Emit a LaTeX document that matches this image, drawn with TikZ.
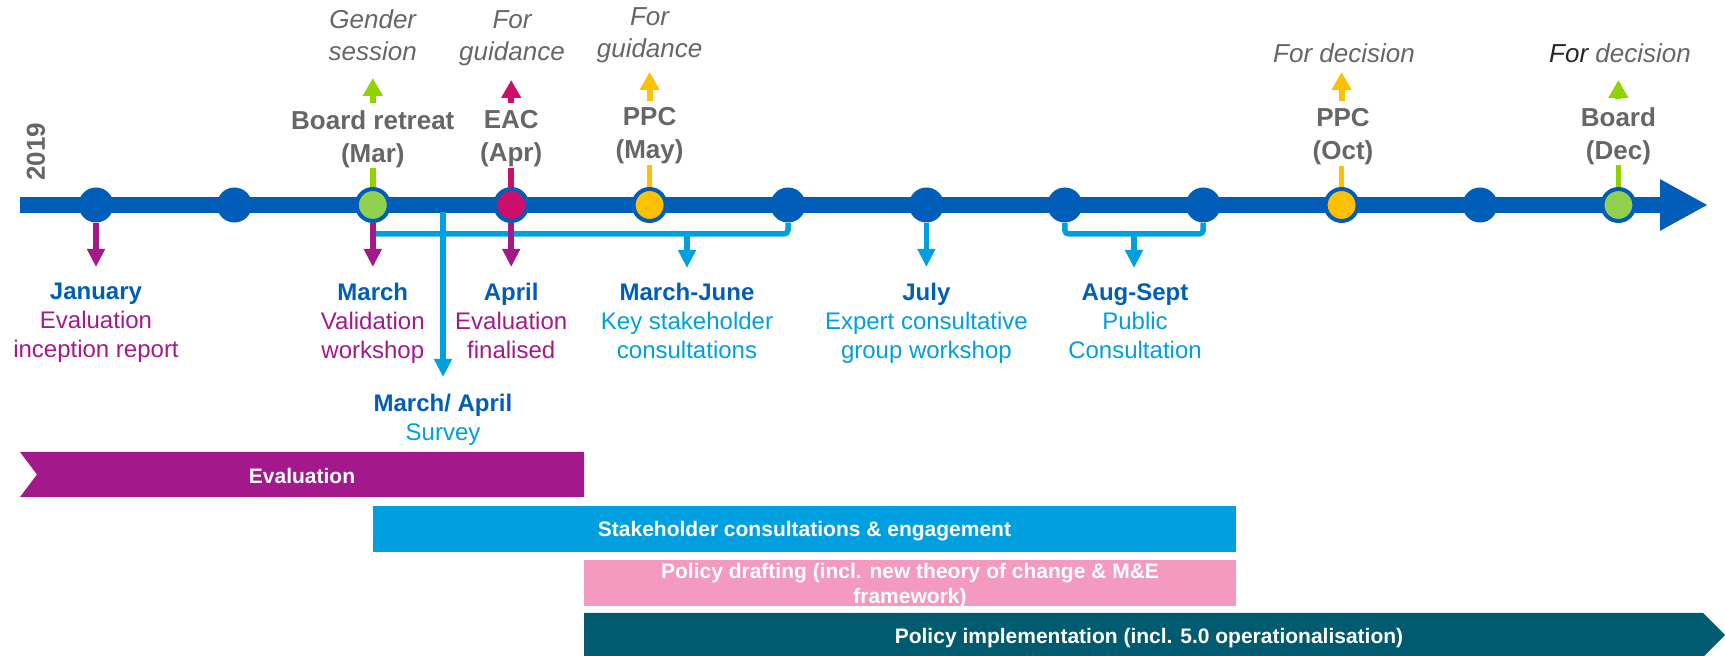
\documentclass[tikz,border=0pt]{standalone}
\usepackage{fontspec}
\setmainfont{Liberation Sans}
\usetikzlibrary{arrows.meta}
\definecolor{tblue}{HTML}{005EB8}
\definecolor{lblue}{HTML}{009FDF}
\definecolor{purp}{HTML}{A3198B}
\definecolor{mag}{HTML}{CC0F6A}
\definecolor{yel}{HTML}{FFC000}
\definecolor{gfill}{HTML}{92D050}
\definecolor{gline}{HTML}{8FD400}
\definecolor{gtext}{HTML}{666666}
\definecolor{lpink}{HTML}{F49AC1}
\definecolor{dteal}{HTML}{005A70}
\newcommand\mhead[1]{{\bfseries\color{tblue}#1}}
\tikzset{
  tdot/.style={circle, fill=tblue, inner sep=0pt, minimum size=17.5pt},
  cdot/.style={circle, draw=tblue, line width=2pt, fill=#1, inner sep=0pt, minimum size=16pt},
  toplab/.style={text=gtext, font=\fontsize{13}{16.5}\selectfont\bfseries, align=center, inner sep=0pt},
  itlab/.style={text=gtext, font=\fontsize{13}{16}\selectfont\itshape, align=center, inner sep=0pt},
  botlab/.style={text=#1, font=\fontsize{12}{14.5}\selectfont, align=center, inner sep=0pt},
  stemline/.style={draw=#1, line width=2.8pt},
  uparr/.style={draw=#1, line width=3pt, -{Triangle[width=9.5pt,length=9pt]}},
  downarr/.style={draw=#1, line width=2.75pt, -{Triangle[width=8.5pt,length=9pt]}},
  brk/.style={draw=lblue, line width=2.75pt, rounded corners=2pt},
  barlab/.style={text=white, font=\fontsize{10.5}{12.5}\selectfont\bfseries, align=center, inner sep=0pt}
}
\begin{document}
\begin{tikzpicture}[x=0.5pt,y=-0.5pt]
\useasboundingbox (0,0) rectangle (1725,656);
% timeline
\coordinate (tls) at (20,205);
\coordinate (tle) at (1708,205);
\draw[tblue, line width=8pt, -{Triangle[width=24pt,length=24pt]}] (tls) -- (tle);
\node[text=gtext, font=\fontsize{13}{13}\selectfont\bfseries, rotate=90, inner sep=0pt] (year) at (36,152) {2019};
% circles
\foreach \i/\x in {1/96,2/234.4,6/788,7/926.4,8/1064.8,9/1203.2,11/1480}
  \node[tdot] (c\i) at (\x,205) {};
\node[cdot=gfill] (c3) at (372.8,205) {};
\node[cdot=mag] (c4) at (511.2,205) {};
\node[cdot=yel] (c5) at (649.6,205) {};
\node[cdot=yel] (c10) at (1341.6,205) {};
\node[cdot=gfill] (c12) at (1618.4,205) {};
% top labels
\node[toplab] (l3) at (372.8,139) {Board retreat\\(Mar)};
\node[toplab] (l4) at (511.2,139) {EAC\\(Apr)};
\node[toplab] (l5) at (649.6,136) {PPC\\(May)};
\node[toplab] (l10) at (1343,137) {PPC\\(Oct)};
\node[toplab] (l12) at (1618.4,136) {Board\\(Dec)};
\node[itlab] (i3) at (372.8,35) {Gender\\session};
\node[itlab] (i4) at (512,38) {For\\guidance};
\node[itlab] (i5) at (649.6,35) {For\\guidance};
\node[itlab] (i10) at (1344,53) {For decision};
\node[itlab] (i12) at (1620,53) {{\color{black!85}For} decision};
% stems
\draw[stemline=gline] (c3) -- (l3);
\draw[stemline=mag] (c4) -- (l4);
\draw[stemline=yel] (c5) -- (l5);
\draw[stemline=yel] (c10) -- (c10 |- l10.south);
\draw[stemline=gline] (c12) -- (l12);
% up arrows
\coordinate (u3a) at (372.8,103); \coordinate (u3b) at (372.8,78);
\coordinate (u4a) at (511.2,103); \coordinate (u4b) at (511.2,80);
\coordinate (u5a) at (649.6,101); \coordinate (u5b) at (649.6,72);
\coordinate (u10a) at (1341.6,101); \coordinate (u10b) at (1341.6,72);
\coordinate (u12a) at (1618.4,99); \coordinate (u12b) at (1618.4,80);
\draw[uparr=gline] (u3a) -- (u3b);
\draw[uparr=mag] (u4a) -- (u4b);
\draw[uparr=yel] (u5a) -- (u5b);
\draw[uparr=yel] (u10a) -- (u10b);
\draw[uparr=gline] (u12a) -- (u12b);
% brackets and blue arrows
\coordinate (br1) at (687,234);
\coordinate (br2) at (1134,234);
\draw[brk] (c3.south) |- (br1) -| (c6.south);
\draw[brk] (c8.south) |- (br2) -| (c9.south);
\coordinate (br1e) at (687,268);
\coordinate (br2e) at (1134,268);
\coordinate (c7e) at (926.4,267);
\coordinate (sv0) at (443,212);
\coordinate (sve) at (443,377);
\draw[downarr=lblue] (br1) -- (br1e);
\draw[downarr=lblue] (br2) -- (br2e);
\draw[downarr=lblue] (c7) -- (c7e);
\draw[downarr=lblue] (sv0) -- (sve);
% purple arrows
\coordinate (c1e) at (96,267);
\coordinate (c3e) at (372.8,267);
\coordinate (c4e) at (511.2,267);
\draw[downarr=purp] (c1) -- (c1e);
\draw[downarr=purp] (c3) -- (c3e);
\draw[downarr=purp] (c4) -- (c4e);
% bottom labels
\node[botlab=purp] (b1) at (96,323) {\mhead{January}\\Evaluation\\inception report};
\node[botlab=purp] (b3) at (372.8,323) {\mhead{March}\\Validation\\workshop};
\node[botlab=purp] (b4) at (511.2,321) {\mhead{April}\\Evaluation\\finalised};
\node[botlab=lblue] (bs) at (443,420) {\mhead{March/ April}\\Survey};
\node[botlab=lblue] (b6) at (687,321) {\mhead{March-June}\\Key stakeholder\\consultations};
\node[botlab=lblue] (b7) at (926.4,323) {\mhead{July}\\Expert consultative\\group workshop};
\node[botlab=lblue] (b8) at (1135,321) {\mhead{Aug-Sept}\\Public\\Consultation};
% bars
\fill[purp] (20,452) -- (584,452) -- (584,497) -- (20,497) -- (37,474.5) -- cycle;
\node[barlab] (ev) at (302,476) {Evaluation};
\fill[lblue] (373,506) rectangle (1236,552);
\node[barlab] (sc) at (804.5,531) {Stakeholder consultations \& engagement};
\fill[lpink] (584,560) rectangle (1236,606);
\node[barlab] (pd) at (910,586) {Policy drafting (incl. new theory of change \& M\&E\\framework)};
\fill[dteal] (584,613) -- (1703,613) -- (1725,635) -- (1703,657) -- (584,657) -- cycle;
\node[barlab] (pim) at (1149,638) {Policy implementation (incl. 5.0 operationalisation)};
\end{tikzpicture}
\end{document}
